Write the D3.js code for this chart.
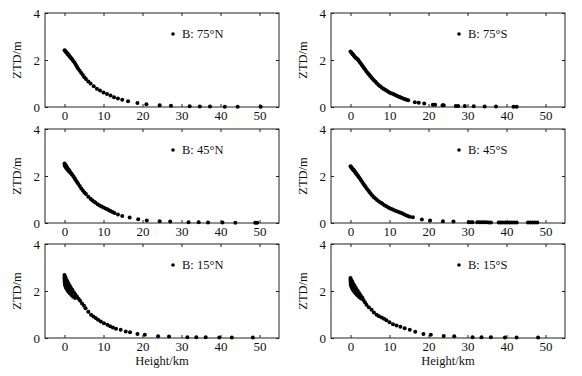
<!DOCTYPE html>
<html>
<head>
<meta charset="utf-8">
<script src="https://cdn.jsdelivr.net/npm/d3@7"></script>
<style>
  html, body { margin: 0; padding: 0; background: #fff; }
  svg { display: block; }
  text { font-family: "Liberation Serif", "Times New Roman", serif; fill: #111; }
</style>
</head>
<body>
<svg id="chart" width="582" height="376"></svg>
<script>
// ---------- data (Height km, ZTD m) ----------
const latLabels = ["B: 75°N", "B: 75°S", "B: 45°N", "B: 45°S", "B: 15°N", "B: 15°S"];

const pts75N = [[0.0,2.42],[0.15,2.39],[0.3,2.36],[0.45,2.33],[0.6,2.30],[0.75,2.27],[0.9,2.24],[1.05,2.21],[1.2,2.18],[1.4,2.14],[1.6,2.10],[1.8,2.06],[2.0,2.02],[2.3,1.95],[2.6,1.88],[2.9,1.80],[3.2,1.71],[3.5,1.63],[3.9,1.54],[4.3,1.45],[4.7,1.36],[5.1,1.27],[5.5,1.19],[6.1,1.09],[6.7,1.00],[7.5,0.88],[8.3,0.78],[9.1,0.70],[10.0,0.62],[10.9,0.55],[11.8,0.49],[12.7,0.42],[13.7,0.36],[14.8,0.31],[16.3,0.25],[18.7,0.17],[21.0,0.12],[24.4,0.07],[27.3,0.05],[32.1,0.03],[34.7,0.02],[37.3,0.02],[41.1,0.01],[44.4,0.01],[50.3,0.01]];

const pts75S = [[0.0,2.36],[0.2,2.32],[0.4,2.28],[0.6,2.24],[0.8,2.20],[1.0,2.16],[1.2,2.12],[1.4,2.09],[1.6,2.06],[1.8,2.03],[2.0,2.00],[2.3,1.93],[2.6,1.86],[2.9,1.79],[3.2,1.72],[3.5,1.65],[3.8,1.58],[4.1,1.51],[4.4,1.45],[4.7,1.39],[5.0,1.33],[5.3,1.27],[5.6,1.21],[6.0,1.14],[6.4,1.07],[6.8,1.00],[7.2,0.94],[7.6,0.88],[8.0,0.83],[8.4,0.78],[8.8,0.74],[9.2,0.70],[9.6,0.66],[10.0,0.62],[10.4,0.59],[10.8,0.56],[11.2,0.53],[11.6,0.50],[12.0,0.47],[12.4,0.44],[12.8,0.41],[13.2,0.38],[13.6,0.35],[14.0,0.33],[14.4,0.31],[14.8,0.29],[16.5,0.20],[17.5,0.18],[18.9,0.15],[21.1,0.10],[21.7,0.10],[23.6,0.07],[23.9,0.07],[27.0,0.04],[27.6,0.04],[29.3,0.04],[31.6,0.03],[34.4,0.02],[37.3,0.02],[41.8,0.01],[42.6,0.01]];

const pts45N = [[0.0,2.53],[0.05,2.47],[0.15,2.49],[0.2,2.42],[0.3,2.45],[0.35,2.37],[0.45,2.41],[0.5,2.33],[0.6,2.37],[0.7,2.29],[0.8,2.32],[0.9,2.25],[1.0,2.28],[1.1,2.21],[1.25,2.23],[1.4,2.16],[1.6,2.14],[1.8,2.09],[2.0,2.05],[2.3,1.98],[2.6,1.90],[2.9,1.82],[3.2,1.74],[3.5,1.67],[3.9,1.57],[4.3,1.47],[4.7,1.38],[5.1,1.30],[5.5,1.23],[6.1,1.12],[6.7,1.03],[7.1,0.97],[7.5,0.92],[7.9,0.87],[8.5,0.80],[9.0,0.75],[9.5,0.70],[10.0,0.66],[10.5,0.62],[11.0,0.58],[11.4,0.54],[11.8,0.51],[12.3,0.47],[12.8,0.43],[13.7,0.36],[14.8,0.30],[16.7,0.23],[18.9,0.16],[21.1,0.11],[24.4,0.07],[27.1,0.06],[31.8,0.03],[34.4,0.03],[36.8,0.02],[40.5,0.02],[43.8,0.01],[48.9,0.01],[49.4,0.01]];

const pts45S = [[0.0,2.42],[0.15,2.38],[0.3,2.35],[0.45,2.32],[0.6,2.29],[0.75,2.26],[0.9,2.23],[1.05,2.20],[1.2,2.16],[1.35,2.13],[1.5,2.10],[1.7,2.05],[1.9,2.01],[2.1,1.96],[2.4,1.89],[2.7,1.82],[3.0,1.74],[3.3,1.67],[3.6,1.60],[3.9,1.53],[4.2,1.46],[4.6,1.38],[4.9,1.31],[5.2,1.24],[5.6,1.17],[6.0,1.10],[6.4,1.04],[6.8,0.98],[7.3,0.91],[7.8,0.86],[8.2,0.82],[8.7,0.76],[9.2,0.71],[9.7,0.66],[10.2,0.62],[10.7,0.58],[11.2,0.54],[11.7,0.51],[12.2,0.48],[12.7,0.45],[13.2,0.41],[13.7,0.37],[14.2,0.33],[14.7,0.30],[15.2,0.27],[16.0,0.24],[18.3,0.15],[20.4,0.11],[23.7,0.07],[26.4,0.06],[30.3,0.03],[30.8,0.03],[31.3,0.03],[32.5,0.03],[33.0,0.03],[33.6,0.03],[34.2,0.03],[34.8,0.03],[35.4,0.02],[36.0,0.02],[38.0,0.02],[38.5,0.02],[39.0,0.02],[39.6,0.02],[40.2,0.02],[40.8,0.02],[41.4,0.02],[42.0,0.02],[42.6,0.02],[45.5,0.02],[46.1,0.02],[46.7,0.02],[47.3,0.02],[47.9,0.02]];

const pts15N = [[0.0,2.68],[0.25,2.58],[0.5,2.48],[0.75,2.40],[1.0,2.32],[1.3,2.23],[1.6,2.15],[2.0,2.05],[2.4,1.95],[2.8,1.85],[3.2,1.76],[3.6,1.67],[0.0,2.60],[0.0,2.52],[0.02,2.44],[0.05,2.36],[0.1,2.28],[0.25,2.20],[0.45,2.12],[0.7,2.04],[1.0,1.97],[1.35,1.90],[1.75,1.83],[2.2,1.76],[2.7,1.70],[0.1,2.55],[0.3,2.45],[0.5,2.35],[0.7,2.25],[1.0,2.15],[1.4,2.05],[1.9,1.94],[4.0,1.58],[4.5,1.47],[5.0,1.37],[5.4,1.27],[6.1,1.12],[6.8,0.99],[7.4,0.92],[8.0,0.85],[8.6,0.78],[9.3,0.70],[10.1,0.63],[11.0,0.56],[11.7,0.50],[12.4,0.45],[13.2,0.39],[14.4,0.35],[15.7,0.28],[16.8,0.25],[18.7,0.17],[20.6,0.14],[24.0,0.07],[26.8,0.06],[31.5,0.03],[33.8,0.03],[36.2,0.03],[39.7,0.02],[42.9,0.02],[48.3,0.02]];

const pts15S = [[0.0,2.55],[0.25,2.46],[0.5,2.38],[0.8,2.29],[1.1,2.20],[1.4,2.12],[1.8,2.02],[2.2,1.92],[2.6,1.82],[3.0,1.72],[0.0,2.48],[0.02,2.40],[0.05,2.32],[0.1,2.25],[0.25,2.17],[0.45,2.10],[0.7,2.03],[1.0,1.96],[1.35,1.89],[1.75,1.82],[2.2,1.75],[2.7,1.68],[0.2,2.35],[0.5,2.22],[0.9,2.10],[1.4,1.98],[3.3,1.62],[3.7,1.52],[4.1,1.42],[4.7,1.31],[5.4,1.20],[6.0,1.09],[6.7,0.99],[7.3,0.93],[8.0,0.87],[8.6,0.82],[9.2,0.76],[10.0,0.67],[10.9,0.59],[11.8,0.53],[12.8,0.48],[13.9,0.42],[15.2,0.35],[16.6,0.27],[18.7,0.17],[20.6,0.14],[23.9,0.09],[26.6,0.07],[31.3,0.03],[33.6,0.03],[36.0,0.03],[39.6,0.02],[42.6,0.02],[48.1,0.02]];

const seriesList = [pts75N, pts75S, pts45N, pts45S, pts15N, pts15S];
const xTicks = [0, 10, 20, 30, 40, 50];
const yTicks = [0, 2, 4];
const xDomain = [-5, 55];
const yDomain = [0, 4];
const xTitle = "Height/km";
const yTitle = "ZTD/m";

// ---------- layout ----------
const svg = d3.select("#chart");
const colX = [45, 331];
const rowY = [13, 129, 244];
const pw = 234, ph = 94;
const fs = 12.5;

seriesList.forEach((pts, i) => {
  const col = i % 2, row = Math.floor(i / 2);
  const g = svg.append("g").attr("transform", `translate(${colX[col]},${rowY[row]})`);
  const x = d3.scaleLinear().domain(xDomain).range([0, pw]);
  const y = d3.scaleLinear().domain(yDomain).range([ph, 0]);

  // axes (inward ticks on all four sides)
  const axB = g.append("g").attr("transform", `translate(0,${ph})`)
    .call(d3.axisBottom(x).tickValues(xTicks).tickSizeInner(-3).tickSizeOuter(0).tickPadding(4).tickFormat(d3.format("d")));
  const axT = g.append("g")
    .call(d3.axisTop(x).tickValues(xTicks).tickSizeInner(-3).tickSizeOuter(0).tickFormat(""));
  const axL = g.append("g")
    .call(d3.axisLeft(y).tickValues(yTicks).tickSizeInner(-3).tickSizeOuter(0).tickPadding(5).tickFormat(d3.format("d")));
  const axR = g.append("g").attr("transform", `translate(${pw},0)`)
    .call(d3.axisRight(y).tickValues(yTicks).tickSizeInner(-3).tickSizeOuter(0).tickFormat(""));
  [axB, axT, axL, axR].forEach(a => {
    a.select(".domain").remove();
    a.selectAll("line").attr("stroke", "#222").attr("stroke-width", 1);
    a.selectAll("text").attr("font-size", 13).attr("font-family", "Liberation Serif").attr("fill", "#111");
  });

  g.append("rect").attr("x", 0).attr("y", 0).attr("width", pw).attr("height", ph)
    .attr("fill", "none").attr("stroke", "#222").attr("stroke-width", 1);

  // points
  g.append("g").selectAll("circle").data(pts).join("circle")
    .attr("cx", d => x(d[0])).attr("cy", d => y(d[1])).attr("r", 2).attr("fill", "#000");

  // legend
  g.append("circle").attr("cx", 128).attr("cy", 21).attr("r", 1.8).attr("fill", "#000");
  g.append("text").attr("x", 137).attr("y", 25).attr("font-size", fs).text(latLabels[i]);

  // y title
  g.append("text").attr("transform", `translate(${-24},${ph / 2}) rotate(-90)`)
    .attr("text-anchor", "middle").attr("font-size", fs).text(yTitle);

  if (row === 2) {
    g.append("text").attr("x", pw / 2).attr("y", ph + 27).attr("text-anchor", "middle")
      .attr("font-size", fs).text(xTitle);
  }
});
</script>
</body>
</html>
